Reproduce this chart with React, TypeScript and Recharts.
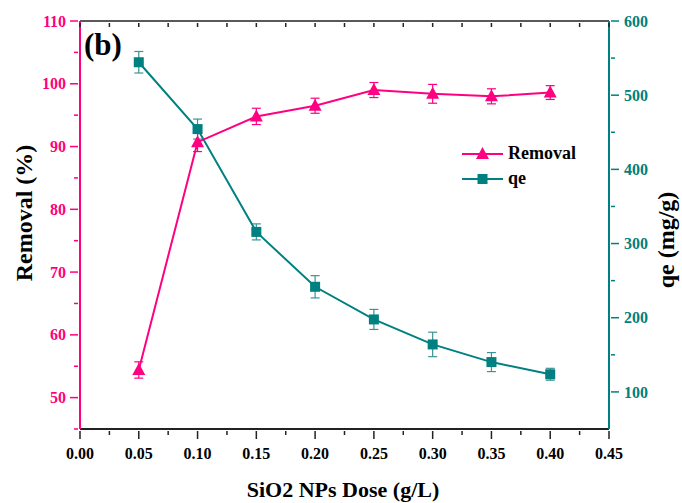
import { LineChart, Line, XAxis, YAxis, ErrorBar, Legend, Label } from "recharts";

const doses = [0.05, 0.1, 0.15, 0.2, 0.25, 0.3, 0.35, 0.4];
const removal = [54.4, 90.7, 94.8, 96.5, 99.0, 98.4, 98.0, 98.6];
const removalErr = [1.3, 1.5, 1.3, 1.2, 1.2, 1.5, 1.2, 1.1];
const qe = [544.4, 454.3, 315.7, 241.7, 197.7, 164.0, 140.2, 123.8];
const qeErr = [14.5, 13.5, 10.8, 15, 13.5, 16.5, 12.8, 8];

const doseTicks = [0, 0.025, 0.05, 0.075, 0.1, 0.125, 0.15, 0.175, 0.2, 0.225, 0.25, 0.275, 0.3, 0.325, 0.35, 0.375, 0.4, 0.425, 0.45];
const removalTicks = [45, 50, 55, 60, 65, 70, 75, 80, 85, 90, 95, 100, 105, 110];
const qeTicks = [100, 150, 200, 250, 300, 350, 400, 450, 500, 550, 600];

const PINK = "#FF0080";
const TEAL = "#008080";
const FONT = "'Liberation Serif', 'Times New Roman', serif";

const data = doses.map((d, i) => ({
  dose: d,
  removal: removal[i],
  removalErr: removalErr[i],
  qe: qe[i],
  qeErr: qeErr[i],
}));

const BottomTick = (props: any) => {
  const { x, y, payload } = props;
  const v = payload.value;
  const major = Math.round(v * 1000) % 50 === 0;
  return (
    <g>
      <line x1={x} x2={x} y1={y} y2={y + (major ? 8 : 4)} stroke="#222" strokeWidth={1.5} />
      {major && (
        <text x={x} y={y + 28} textAnchor="middle" fontSize={16} fontWeight="bold" fill="#000" fontFamily={FONT}>
          {v.toFixed(2)}
        </text>
      )}
    </g>
  );
};

const TopTick = (props: any) => {
  const { x, y } = props;
  return <line x1={x} x2={x} y1={y} y2={y + 4} stroke="#222" strokeWidth={1.5} />;
};

const LeftTick = (props: any) => {
  const { x, y, payload } = props;
  const v = payload.value;
  const major = v % 10 === 0;
  return (
    <g>
      <line x1={x} x2={x - (major ? 8 : 4)} y1={y} y2={y} stroke={PINK} strokeWidth={1.5} />
      {major && (
        <text x={x - 12} y={y} dy="0.35em" textAnchor="end" fontSize={16} fontWeight="bold" fill={PINK} fontFamily={FONT}>
          {v}
        </text>
      )}
    </g>
  );
};

const RightTick = (props: any) => {
  const { x, y, payload } = props;
  const v = payload.value;
  const major = v % 100 === 0;
  return (
    <g>
      <line x1={x} x2={x + (major ? 8 : 4)} y1={y} y2={y} stroke={TEAL} strokeWidth={1.5} />
      {major && (
        <text x={x + 13} y={y} dy="0.35em" textAnchor="start" fontSize={16} fontWeight="bold" fill={TEAL} fontFamily={FONT}>
          {v}
        </text>
      )}
    </g>
  );
};

const TriangleDot = (props: any) => {
  const { cx, cy } = props;
  if (cx == null || cy == null) return null;
  return <path d={`M${cx},${cy - 7} L${cx + 6.5},${cy + 5} L${cx - 6.5},${cy + 5} Z`} fill={PINK} />;
};

const SquareDot = (props: any) => {
  const { cx, cy } = props;
  if (cx == null || cy == null) return null;
  return <rect x={cx - 5} y={cy - 5} width={10} height={10} fill={TEAL} />;
};

const legendItems = [
  { name: "Removal", color: PINK, shape: "triangle" },
  { name: "qe", color: TEAL, shape: "square" },
];

const renderLegend = () => (
  <div style={{ fontFamily: FONT, fontWeight: "bold", fontSize: 18, color: "#000" }}>
    {legendItems.map((item) => (
      <div key={item.name} style={{ display: "flex", alignItems: "center", height: 25 }}>
        <svg width={46} height={16}>
          <line x1={2} x2={43} y1={8} y2={8} stroke={item.color} strokeWidth={2} />
          {item.shape === "triangle" ? (
            <path d="M22.5,1 L29,13 L16,13 Z" fill={item.color} />
          ) : (
            <rect x={17.5} y={3} width={10} height={10} fill={item.color} />
          )}
        </svg>
        <span style={{ marginLeft: 2 }}>{item.name}</span>
      </div>
    ))}
  </div>
);

export default function App() {
  return (
    <div style={{ position: "absolute", left: 0, top: 0, width: 682, height: 503, background: "#fff" }}>
      <LineChart width={682} height={503} data={data} margin={{ top: 21, right: 13, bottom: 24, left: 20 }}>
        <XAxis
          xAxisId="bottom"
          dataKey="dose"
          type="number"
          domain={[0, 0.45]}
          allowDataOverflow
          ticks={doseTicks}
          interval={0}
          tickSize={0}
          tickLine={false}
          tick={<BottomTick />}
          height={50}
          axisLine={{ stroke: "#222", strokeWidth: 2 }}
        >
          <Label
            content={() => (
              <text x={343} y={497} textAnchor="middle" fontSize={22} fontWeight="bold" fill="#000" fontFamily={FONT}>
                SiO2 NPs Dose (g/L)
              </text>
            )}
          />
        </XAxis>
        <XAxis
          xAxisId="top"
          orientation="top"
          mirror
          dataKey="dose"
          type="number"
          domain={[0, 0.45]}
          allowDataOverflow
          ticks={doseTicks}
          interval={0}
          tickSize={0}
          tickLine={false}
          tick={<TopTick />}
          axisLine={{ stroke: "#222", strokeWidth: 1.5 }}
        >
          <Label
            content={() => (
              <text x={84} y={55} fontSize={31} fontWeight="bold" fill="#000" fontFamily={FONT}>
                (b)
              </text>
            )}
          />
        </XAxis>
        <YAxis
          yAxisId="left"
          domain={[45, 110]}
          allowDataOverflow
          ticks={removalTicks}
          interval={0}
          tickSize={0}
          tickLine={false}
          tick={<LeftTick />}
          width={60}
          axisLine={{ stroke: PINK, strokeWidth: 2 }}
        >
          <Label
            content={() => (
              <text
                x={24}
                y={213}
                transform="rotate(-90 24 213)"
                textAnchor="middle"
                dominantBaseline="central"
                fontSize={24}
                fontWeight="bold"
                fill="#000"
                fontFamily={FONT}
              >
                Removal (%)
              </text>
            )}
          />
        </YAxis>
        <YAxis
          yAxisId="right"
          orientation="right"
          domain={[50, 600]}
          allowDataOverflow
          ticks={qeTicks}
          interval={0}
          tickSize={0}
          tickLine={false}
          tick={<RightTick />}
          width={60}
          axisLine={{ stroke: TEAL, strokeWidth: 2 }}
        >
          <Label
            content={() => (
              <text
                x={666}
                y={240}
                transform="rotate(-90 666 240)"
                textAnchor="middle"
                dominantBaseline="central"
                fontSize={24}
                fontWeight="bold"
                fill="#000"
                fontFamily={FONT}
              >
                qe (mg/g)
              </text>
            )}
          />
        </YAxis>
        <Legend
          layout="vertical"
          align="center"
          verticalAlign="middle"
          content={renderLegend}
          wrapperStyle={{ left: 460, top: 141, width: 140 }}
        />
        <Line
          xAxisId="bottom"
          yAxisId="right"
          dataKey="qe"
          name="qe"
          stroke={TEAL}
          strokeWidth={2}
          isAnimationActive={false}
          dot={(p: any) => <SquareDot key={`q-${p.index}`} {...p} />}
          activeDot={false}
        >
          <ErrorBar dataKey="qeErr" direction="y" width={4.5} stroke="#3a9494" strokeWidth={1.2} isAnimationActive={false} />
        </Line>
        <Line
          xAxisId="bottom"
          yAxisId="left"
          dataKey="removal"
          name="Removal"
          stroke={PINK}
          strokeWidth={2}
          isAnimationActive={false}
          dot={(p: any) => <TriangleDot key={`r-${p.index}`} {...p} />}
          activeDot={false}
        >
          <ErrorBar dataKey="removalErr" direction="y" width={4.5} stroke={PINK} strokeWidth={1.2} isAnimationActive={false} />
        </Line>
      </LineChart>
    </div>
  );
}
